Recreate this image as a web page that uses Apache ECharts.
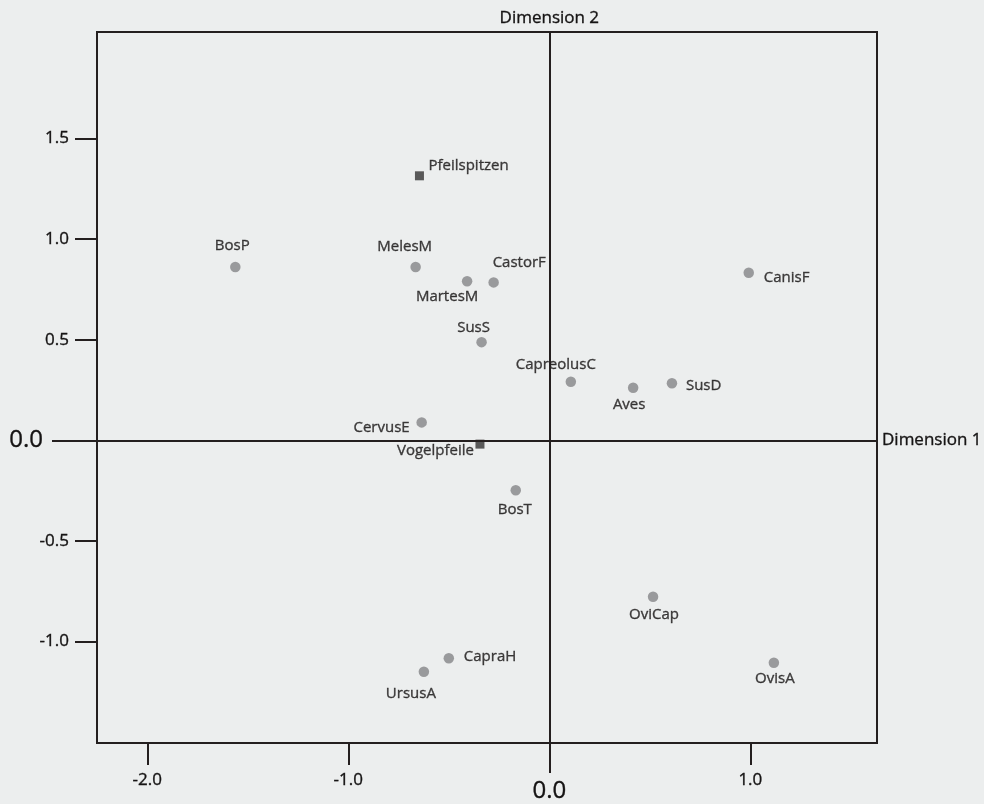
<!DOCTYPE html>
<html>
<head>
<meta charset="utf-8">
<script src="https://cdn.jsdelivr.net/npm/echarts@6/dist/echarts.min.js"></script>
<style>
html, body { margin: 0; padding: 0; background: #eceeee; }
#chart { width: 984px; height: 804px; }
</style>
</head>
<body>
<div id="chart"></div>
<script>
// Tierarten: Koordinaten auf Dimension 1 / Dimension 2
const speciesNames = ['BosP', 'MelesM', 'MartesM', 'CastorF', 'CanisF', 'SusS', 'CapreolusC', 'Aves', 'SusD',
                      'CervusE', 'BosT', 'OviCap', 'CapraH', 'UrsusA', 'OvisA'];
const speciesDim1 = [-1.562, -0.665, -0.409, -0.277, 0.992, -0.337, 0.107, 0.417, 0.610,
                     -0.635, -0.167, 0.516, -0.500, -0.624, 1.117];
const speciesDim2 = [0.862, 0.862, 0.791, 0.785, 0.833, 0.488, 0.291, 0.261, 0.284,
                     0.089, -0.248, -0.778, -1.084, -1.151, -1.106];

// Geschossspitzen
const arrowNames = ['Pfeilspitzen', 'Vogelpfeile'];
const arrowDim1 = [-0.646, -0.345];
const arrowDim2 = [1.315, -0.019];

// Achsen
const xTickValues = [-2, -1, 1];
const yTickValues = [1.5, 1, 0.5, -0.5, -1];
const zeroTick = [0];
const axisTitles = ['Dimension 1', 'Dimension 2'];

// Beschriftungslage je Punkt: [Ausrichtung, dx, dy] relativ zur Markierung
const labelPlacement = {
  BosP: ['center', -3, -21],
  MelesM: ['center', -11, -20],
  MartesM: ['center', -20, 16],
  CastorF: ['left', -1, -20],
  CanisF: ['left', 15, 5],
  SusS: ['center', -8, -14],
  CapreolusC: ['center', -15, -17],
  Aves: ['center', -4, 17],
  SusD: ['left', 14, 3],
  CervusE: ['right', -12, 5],
  BosT: ['center', -1, 20],
  OviCap: ['center', 1, 18],
  CapraH: ['left', 15, -2],
  UrsusA: ['center', -13, 22],
  OvisA: ['center', 1, 16],
  Pfeilspitzen: ['left', 9, -10],
  Vogelpfeile: ['right', -6, 7]
};

const FONT = 'Open Sans';
const INK = '#241f1f';
const TEXT = '#161414';

function buildItems(names, xs, ys) {
  return names.map((n, i) => {
    const p = labelPlacement[n];
    return {
      name: n,
      value: [xs[i], ys[i]],
      label: { align: p[0], offset: [p[1], p[2]] }
    };
  });
}

// leicht kräftigere Schrift wie im Druck
const heavy = { textBorderColor: TEXT, textBorderWidth: 0.35 };

const pointLabel = Object.assign({
  show: true,
  position: 'inside',
  formatter: '{b}',
  verticalAlign: 'middle',
  fontFamily: FONT,
  fontSize: 15,
  color: TEXT
}, heavy);

const X_MIN = -2.25, X_MAX = 1.63, Y_MIN = -1.505, Y_MAX = 2.03;
const fmt = v => v.toFixed(1);

function xAxisDef(values, tickLen, fontSize, margin) {
  return {
    type: 'value', min: X_MIN, max: X_MAX, position: 'bottom',
    axisLine: { show: false, onZero: false }, splitLine: { show: false },
    axisTick: { show: true, inside: false, length: tickLen, customValues: values,
                lineStyle: { color: INK, width: 2 } },
    axisLabel: Object.assign({ show: true, customValues: values, formatter: fmt, margin: margin,
                 fontFamily: FONT, fontSize: fontSize, color: TEXT }, heavy)
  };
}
function yAxisDef(values, tickLen, fontSize, margin) {
  return {
    type: 'value', min: Y_MIN, max: Y_MAX, position: 'left',
    axisLine: { show: false, onZero: false }, splitLine: { show: false },
    axisTick: { show: true, inside: false, length: tickLen, customValues: values,
                lineStyle: { color: INK, width: 2 } },
    axisLabel: Object.assign({ show: true, customValues: values, formatter: fmt, margin: margin,
                 fontFamily: FONT, fontSize: fontSize, color: TEXT }, heavy)
  };
}

const chart = echarts.init(document.getElementById('chart'), null, { renderer: 'canvas' });
chart.setOption({
  backgroundColor: '#eceeee',
  animation: false,
  grid: {
    left: 97, top: 32, width: 780, height: 711,
    show: true, borderColor: INK, borderWidth: 2, backgroundColor: 'transparent'
  },
  xAxis: [
    xAxisDef(xTickValues, 22, 17, 29),
    xAxisDef(zeroTick, 30, 24, 36)
  ],
  yAxis: [
    yAxisDef(yTickValues, 22, 17, 28),
    yAxisDef(zeroTick, 45, 24, 54)
  ],
  series: [
    {
      type: 'scatter',
      data: [],
      z: 1,
      markLine: {
        silent: true,
        symbol: ['none', 'none'],
        animation: false,
        lineStyle: { type: 'solid', color: INK, width: 2 },
        label: Object.assign({ show: true, position: 'end', distance: 5, fontFamily: FONT,
                               fontSize: 17, color: TEXT }, heavy),
        emphasis: { disabled: true },
        data: [
          { yAxis: 0, label: { formatter: axisTitles[0] } },
          { xAxis: 0, label: { formatter: axisTitles[1] } }
        ]
      }
    },
    {
      name: 'Tierarten',
      type: 'scatter',
      z: 3,
      symbol: 'circle',
      symbolSize: 10.5,
      itemStyle: { color: '#858587' },
      label: pointLabel,
      emphasis: { disabled: true },
      data: buildItems(speciesNames, speciesDim1, speciesDim2)
    },
    {
      name: 'Geschossspitzen',
      type: 'scatter',
      z: 4,
      symbol: 'rect',
      symbolSize: 9,
      itemStyle: { color: '#353333' },
      label: pointLabel,
      emphasis: { disabled: true },
      data: buildItems(arrowNames, arrowDim1, arrowDim2)
    }
  ]
});
</script>
</body>
</html>
